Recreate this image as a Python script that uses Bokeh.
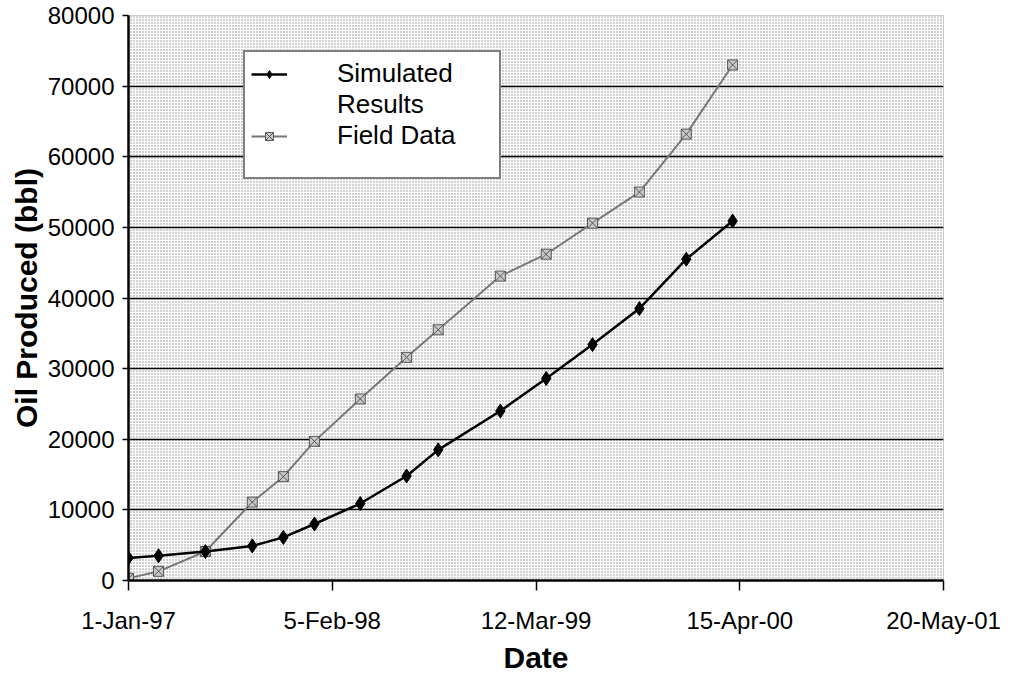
import pandas as pd
from bokeh.plotting import figure
from bokeh.models import (FixedTicker, Legend, LegendItem, Range1d, ColumnDataSource,
                          BoxAnnotation)
from bokeh.embed import file_html
from bokeh.resources import INLINE

# ---- data ----
dates = ["1997-01-01", "1997-03-01", "1997-06-01", "1997-09-01", "1997-11-01",
         "1998-01-01", "1998-04-01", "1998-07-01", "1998-09-01", "1999-01-01",
         "1999-04-01", "1999-07-01", "1999-10-01", "2000-01-01", "2000-04-01"]
simulated = [3200, 3500, 4100, 4900, 6100, 8000, 10900, 14800, 18500, 24000,
             28600, 33400, 38500, 45500, 50900]
field = [300, 1300, 4100, 11100, 14700, 19700, 25700, 31600, 35500, 43100,
         46200, 50600, 55000, 63200, 73000]
x_tick_dates = ["1997-01-01", "1998-02-05", "1999-03-12", "2000-04-15", "2001-05-20"]
x_tick_labels = ["1-Jan-97", "5-Feb-98", "12-Mar-99", "15-Apr-00", "20-May-01"]
y_ticks = [0, 10000, 20000, 30000, 40000, 50000, 60000, 70000, 80000]


def to_ms(s):
    return (pd.Timestamp(s) - pd.Timestamp("1970-01-01")) // pd.Timedelta(milliseconds=1)


FONT = "Liberation Sans"
tick_ms = [to_ms(d) for d in x_tick_dates]

src = ColumnDataSource(dict(x=pd.to_datetime(dates), sim=simulated, fld=field))

p = figure(width=1012, height=676, output_backend="svg", toolbar_location=None,
           x_axis_type="datetime",
           x_range=Range1d(tick_ms[0], tick_ms[-1]), y_range=Range1d(0, 80000),
           min_border_left=128, min_border_right=69, min_border_top=15, min_border_bottom=94)

p.background_fill_color = "white"
p.border_fill_color = "white"
p.outline_line_color = "#777777"
p.outline_line_dash = "1 1"

# dotted texture of the plot area
bg = BoxAnnotation(fill_color="white", fill_alpha=1, hatch_pattern="dot",
                   hatch_color="#8a8a8a", hatch_scale=3, hatch_weight=1,
                   line_color=None, level="image")
p.add_layout(bg)

# field data
rf = p.line("x", "fld", source=src, line_color="#777777", line_width=2)
mf = p.scatter("x", "fld", source=src, marker="square_x", size=10,
               fill_color="#c8c8c8", line_color="#555555", line_width=1)
# simulated
rs = p.line("x", "sim", source=src, line_color="black", line_width=2.5)
ms = p.scatter("x", "sim", source=src, marker="diamond", size=14,
               fill_color="black", line_color="black")
# invisible renderer used for spacer rows of the legend
blank = p.scatter(x=[], y=[], size=1, fill_alpha=0, line_alpha=0)

# axes
p.xaxis.ticker = FixedTicker(ticks=tick_ms)
p.xaxis.major_label_overrides = {t: l for t, l in zip(tick_ms, x_tick_labels)}
p.yaxis.ticker = FixedTicker(ticks=y_ticks)
p.yaxis.major_label_overrides = {v: str(v) for v in y_ticks}

for ax in (p.xaxis[0], p.yaxis[0]):
    ax.axis_line_color = "black"
    ax.axis_line_width = 2.5
    ax.major_tick_line_color = "black"
    ax.major_tick_line_width = 1.5
    ax.minor_tick_line_color = None
    ax.major_label_text_font = FONT
    ax.major_label_text_font_size = "24px"
    ax.major_label_text_color = "black"
    ax.axis_label_text_font = FONT
    ax.axis_label_text_font_size = "30px"
    ax.axis_label_text_font_style = "bold"
    ax.axis_label_text_color = "black"

p.xaxis.major_tick_in = 0
p.xaxis.major_tick_out = 10
p.xaxis.major_label_standoff = 16
p.xaxis.axis_label = "Date"
p.xaxis.axis_label_standoff = 4
p.yaxis.major_tick_in = 0
p.yaxis.major_tick_out = 6
p.yaxis.major_label_standoff = 8
p.yaxis.axis_label = "Oil Produced (bbl)"
p.yaxis.axis_label_standoff = 2

p.xgrid.grid_line_color = None
p.ygrid.grid_line_color = "black"
p.ygrid.grid_line_width = 1.5
p.ygrid.ticker = FixedTicker(ticks=y_ticks)

legend = Legend(items=[LegendItem(label="Simulated", renderers=[rs, ms]),
                       LegendItem(label="Results", renderers=[blank]),
                       LegendItem(label="Field Data", renderers=[rf, mf]),
                       LegendItem(label=" ", renderers=[blank])],
                location=(115, 401))
legend.label_text_font = FONT
legend.label_text_font_size = "26px"
legend.label_text_color = "black"
legend.border_line_color = "black"
legend.border_line_width = 2
legend.background_fill_color = "white"
legend.background_fill_alpha = 1
legend.glyph_width = 36
legend.label_standoff = 50
legend.label_width = 156
legend.padding = 6
legend.spacing = 0
legend.margin = 0
p.add_layout(legend, "center")

open("out.html", "w").write(file_html(p, INLINE))
